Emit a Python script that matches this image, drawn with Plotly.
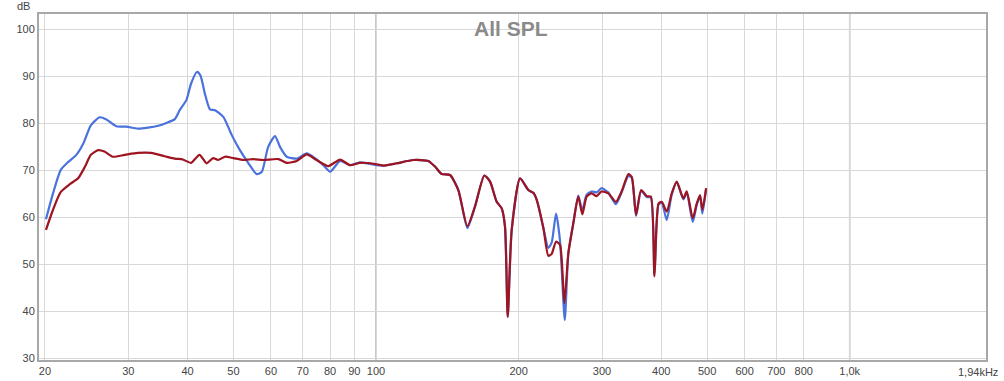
import plotly.graph_objects as go
import math

# ---- data ----
freq_blue = [20.1, 20.8, 21.6, 22.4, 23.3, 24.1, 25.0, 26.1, 26.9, 28.3, 29.7, 31.4, 33.0, 34.7,
             36.1, 37.6, 38.5, 39.8, 40.7, 41.9, 42.6, 43.5, 44.6, 45.7, 47.6, 49.6, 51.6, 53.8,
             56.0, 57.4, 59.2, 61.2, 62.7, 64.8, 68.0, 71.4, 74.3, 77.4, 80.0, 84.0, 88.1, 92.5,
             100.3, 103.6, 110.6, 119.9, 128.9, 133.2, 137.6, 143.3, 149.2, 155.9, 161.8, 169.3,
             174.1, 179.8, 184.2, 187.2, 189.7, 193.4, 201.4, 209.7, 214.8, 218.4, 225.6, 231.1,
             234.9, 239.9, 244.6, 250.3, 254.7, 260.9, 267.3, 272.6, 278.4, 285.2, 292.2, 299.4,
             309.2, 321.0, 330.0, 341.0, 346.7, 354.0, 362.8, 373.1, 380.4, 387.1, 394.8, 401.1,
             410.9, 421.0, 431.4, 445.5, 452.9, 466.3, 475.5, 483.2, 488.7, 497.6]
spl_blue = [59.6, 65.1, 70.1, 71.8, 73.3, 75.7, 79.6, 81.3, 80.9, 79.4, 79.3, 78.9, 79.1, 79.5,
            80.1, 80.9, 82.8, 85.0, 88.5, 91.0, 90.2, 86.4, 83.0, 82.8, 81.4, 77.5, 74.3, 71.5,
            69.2, 69.7, 75.0, 77.3, 75.0, 72.9, 72.5, 73.6, 72.6, 71.1, 69.7, 72.0, 71.1, 71.7,
            71.1, 71.0, 71.5, 72.2, 72.0, 70.8, 69.2, 69.0, 65.8, 57.7, 62.3, 68.9,
            67.6, 63.3, 61.9, 58.0, 38.8, 57.3, 68.3, 65.8, 65.2, 63.7, 57.7, 53.5,
            54.6, 60.8, 55.0, 38.1, 52.3, 58.7, 64.6, 61.5, 64.8, 65.5, 65.3, 66.2,
            65.3, 62.8, 65.3, 68.8, 68.4, 60.3, 65.6, 64.3, 64.2, 47.8, 62.7, 63.1,
            59.4, 64.8, 67.5, 63.8, 65.3, 59.0, 62.7, 64.5, 60.8, 66.0]

freq_red = [20.1, 20.8, 21.6, 22.6, 23.5, 24.3, 25.0, 25.9, 26.7, 27.8, 29.5, 31.4, 33.5, 35.8,
            37.6, 39.1, 40.7, 42.4, 43.9, 45.3, 46.4, 48.0, 50.0, 52.5, 55.1, 57.8, 62.2, 64.8,
            68.0, 71.4, 74.9, 79.3, 84.0, 88.1, 92.5, 100.3, 103.6, 110.6, 119.9, 128.9, 133.2,
            137.6, 143.3, 149.2, 155.9, 161.8, 169.3, 174.1, 179.8, 184.2, 187.2, 189.7, 193.4,
            201.4, 209.7, 214.8, 218.4, 225.6, 231.1, 234.9, 239.9, 244.6, 249.8, 254.7, 260.9,
            267.3, 272.6, 278.4, 285.2, 292.2, 299.4, 309.2, 321.0, 330.0, 341.0, 346.7, 354.0,
            362.8, 373.1, 380.4, 387.1, 394.8, 401.1, 410.9, 421.0, 431.4, 445.5, 452.9, 466.3,
            475.5, 483.2, 488.7, 497.6]
spl_red = [57.3, 61.6, 65.4, 67.1, 68.3, 70.8, 73.3, 74.3, 74.0, 72.9, 73.3, 73.7, 73.7, 73.0,
           72.5, 72.3, 71.6, 73.3, 71.5, 72.6, 72.2, 72.9, 72.6, 72.2, 72.4, 72.2, 72.4, 71.6,
           72.0, 73.4, 72.2, 70.9, 72.3, 71.1, 71.6, 71.3, 71.0, 71.5, 72.2, 72.0, 70.8,
           69.2, 69.0, 65.8, 58.1, 62.3, 68.9, 67.6, 63.3, 61.9, 58.0, 38.8, 57.3,
           68.3, 65.8, 65.2, 63.7, 57.7, 51.8, 52.2, 54.8, 54.1, 41.7, 52.3, 58.7,
           64.4, 60.6, 64.4, 65.1, 64.5, 65.5, 65.1, 63.3, 65.5, 69.2, 68.6, 60.5,
           65.8, 64.5, 64.4, 47.4, 62.9, 63.3, 61.2, 65.1, 67.6, 64.0, 65.5, 59.8,
           62.9, 64.7, 61.6, 66.2]

x_tickvals = [20, 30, 40, 50, 60, 70, 80, 90, 100, 200, 300, 400, 500, 600, 700, 800, 1000]
x_ticktext = ["20", "30", "40", "50", "60", "70", "80", "90", "100", "200", "300", "400",
              "500", "600", "700", "800", "1,0k"]
y_tickvals = [30, 40, 50, 60, 70, 80, 90, 100]
x_range_hz = [19.43, 1940]
y_range_db = [29.6, 103.3]
major_lines_hz = [100, 1000]

FONT = "Liberation Sans, Arial, sans-serif"

fig = go.Figure()
fig.add_trace(go.Scatter(x=freq_blue, y=spl_blue, mode="lines",
                         line=dict(color="#4a72dc", width=2.2, shape="spline", smoothing=0.6),
                         hoverinfo="skip", showlegend=False))
fig.add_trace(go.Scatter(x=freq_red, y=spl_red, mode="lines",
                         line=dict(color="#9e1420", width=2.2, shape="spline", smoothing=0.6),
                         hoverinfo="skip", showlegend=False))

for f in major_lines_hz:
    fig.add_shape(type="line", x0=f, x1=f, xref="x", y0=0, y1=1, yref="paper",
                  line=dict(color="#b4b4b4", width=1.5), layer="below")

fig.update_layout(
    width=1004, height=381,
    margin=dict(l=39, r=18, t=14, b=21, autoexpand=False),
    paper_bgcolor="white", plot_bgcolor="white",
    font=dict(family=FONT, size=11, color="#444444"),
    template="none",
    showlegend=False,
    xaxis=dict(type="log", range=[math.log10(x_range_hz[0]), math.log10(x_range_hz[1])],
               tickvals=x_tickvals, ticktext=x_ticktext, showgrid=True,
               gridcolor="#d8d8d8", gridwidth=1, zeroline=False,
               showline=True, mirror=True, linecolor="#a8a8a8", linewidth=2,
               ticks="", automargin=False, tickfont=dict(size=11, color="#444444")),
    yaxis=dict(range=y_range_db, tickvals=y_tickvals, showgrid=True,
               gridcolor="#d8d8d8", gridwidth=1, zeroline=False,
               showline=True, mirror=True, linecolor="#a8a8a8", linewidth=2,
               ticks="", automargin=False, tickfont=dict(size=11, color="#444444")),
    annotations=[
        dict(text="All SPL", x=0.4985, y=0.957, xref="paper", yref="paper",
             xanchor="center", yanchor="middle", showarrow=False,
             font=dict(family=FONT, size=21, color="#8a8a8a", weight="bold")),
        dict(text="dB", x=-0.0075, y=1.0, xref="paper", yref="paper",
             xanchor="right", yanchor="bottom", showarrow=False,
             font=dict(family=FONT, size=11, color="#444444")),
        dict(text="1,94kHz", x=1.0148, y=-0.012, xref="paper", yref="paper",
             xanchor="right", yanchor="top", showarrow=False,
             font=dict(family=FONT, size=11, color="#444444")),
    ],
)

fig.write_html("out.html", config={"displayModeBar": False},
               post_script="document.body.style.margin='0px';document.body.style.overflow='hidden';")
